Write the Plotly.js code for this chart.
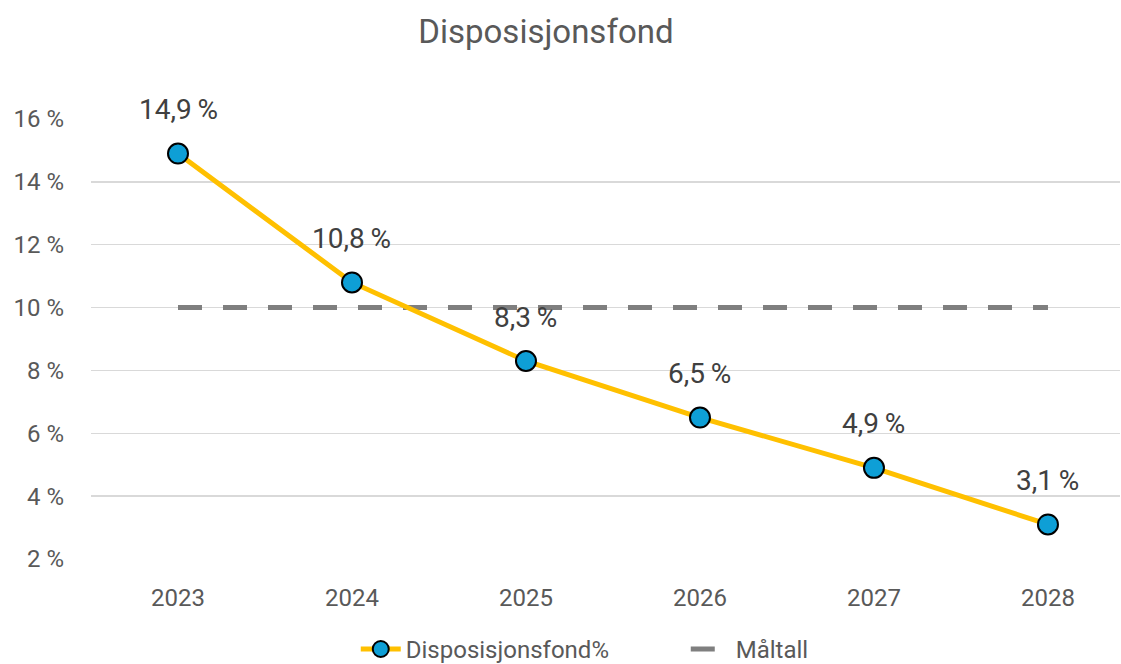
<!DOCTYPE html>
<html>
<head>
<meta charset="utf-8">
<script src="https://cdn.plot.ly/plotly-3.0.1.min.js"></script>
<style>html,body{margin:0;padding:0;background:#fff;}#chart{width:1121px;height:664px;}</style>
</head>
<body>
<div id="chart"></div>
<script>
const years = ['2023', '2024', '2025', '2026', '2027', '2028'];
const fondValues = [14.9, 10.8, 8.3, 6.5, 4.9, 3.1];
const maltallValues = [10, 10, 10, 10, 10, 10];
const yTickVals = [2, 4, 6, 8, 10, 12, 14, 16];
const yTickText = ['2 %', '4 %', '6 %', '8 %', '10 %', '12 %', '14 %', '16 %'];

const fmt = v => v.toFixed(1).replace('.', ',') + '\u2009%';
const fontFam = 'Roboto, "Open Sans", Arial, sans-serif';

const traces = [
  {
    x: years, y: maltallValues, name: 'Måltall', type: 'scatter', mode: 'lines',
    line: {color: '#7F7F7F', width: 5, dash: '24px,21px'},
    hoverinfo: 'skip'
  },
  {
    x: years, y: fondValues, name: 'Disposisjonsfond%', type: 'scatter', mode: 'lines+markers',
    line: {color: '#FFC000', width: 5},
    marker: {color: '#0E9FD6', size: 20, line: {color: '#000000', width: 2}}
  }
];

// category axis: annotation x uses the category index
const annotations = years.map((yr, i) => ({
  x: i, y: fondValues[i], xref: 'x', yref: 'y', text: fmt(fondValues[i]),
  showarrow: false, yshift: 44,
  font: {family: fontFam, size: 28, color: '#404040'}
}));

const layout = {
  width: 1121, height: 664,
  margin: {l: 91, r: 1, t: 119, b: 105},
  paper_bgcolor: '#ffffff', plot_bgcolor: '#ffffff',
  title: {text: 'Disposisjonsfond', x: 0.487, xanchor: 'center', y: 0.952, yanchor: 'middle',
          font: {family: fontFam, size: 33, color: '#595959'}},
  showlegend: true,
  legend: {orientation: 'h', x: 0.578, xanchor: 'center', yref: 'container', y: 0.022, yanchor: 'middle',
           traceorder: 'reversed', font: {family: fontFam, size: 24, color: '#595959'},
           entrywidth: 275, itemwidth: 40},
  xaxis: {type: 'category', range: [-0.5, 5.414], showgrid: false, zeroline: false,
          showline: false, ticks: '', ticklabelstandoff: 22,
          tickfont: {family: fontFam, size: 24, color: '#595959'}},
  yaxis: {range: [2, 16], tickvals: yTickVals, ticktext: yTickText, showgrid: true,
          gridcolor: '#D9D9D9', gridwidth: 1.5, zeroline: false, showline: false,
          ticks: '', ticklabelstandoff: 26,
          tickfont: {family: fontFam, size: 24, color: '#595959'}},
  annotations: annotations
};

Plotly.newPlot('chart', traces, layout, {displayModeBar: false, staticPlot: true});
</script>
</body>
</html>
